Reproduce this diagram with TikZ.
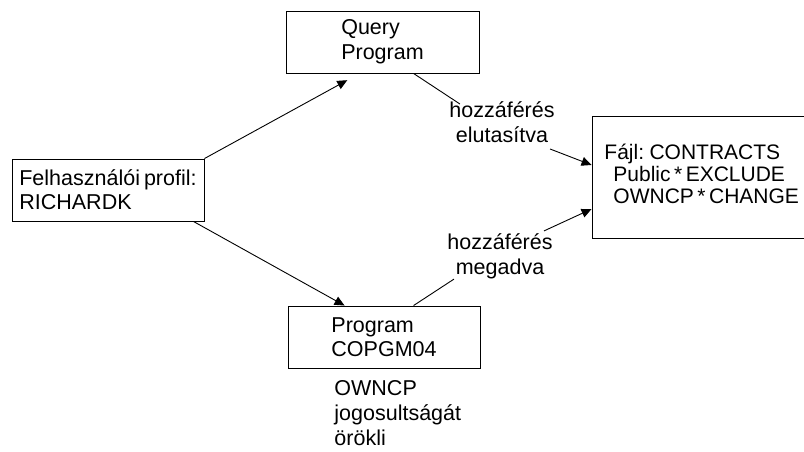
\documentclass[tikz,border=0pt]{standalone}
\usepackage{fontspec}
\setmainfont{Liberation Sans}
\usetikzlibrary{arrows.meta}
\newcommand{\tightsp}{\spaceskip=4pt\relax}
\newcommand{\tightersp}{\spaceskip=3.5pt\relax}

\begin{document}
\begin{tikzpicture}[x=1pt, y=-1pt, line width=0.9pt,
    every node/.style={font=\fontsize{21.5}{24}\selectfont\tightsp},
    box/.style={draw, align=left, inner sep=0pt},
    txt/.style={align=left, inner sep=0pt, font=\fontsize{21.5}{25}\selectfont\tightsp},
    lbl/.style={align=center, inner sep=0pt, font=\fontsize{21.5}{25}\selectfont},
    arr/.style={-{Triangle[length=10pt, width=9pt]}}]

  %% ==== boxes ====
  \node[box, minimum width=192pt, minimum height=62pt] (user) at (108,190) {Felhasználói profil:\\RICHARDK};
  \node[box, minimum width=193pt, minimum height=62pt, font=\fontsize{21.5}{25}\selectfont] (query) at (382.5,42) {Query\\Program};
  \node[box, minimum width=192pt, minimum height=62pt] (prog) at (384,337) {Program\\COPGM04};
  \node[box, minimum width=220pt, minimum height=122pt] (file) at (702,177) {};
  \node[txt, anchor=west, font=\fontsize{21}{22}\selectfont\tightersp] (filetxt) at (604,174) {Fájl: CONTRACTS\\\hspace*{9pt}Public * EXCLUDE\\\hspace*{9pt}OWNCP * CHANGE};

  %% ==== labels ====
  \node[lbl] (deny) at (502,122) {hozzáférés\\elutasítva};
  \node[lbl] (grant) at (500,256) {hozzáférés\\megadva};
  \node[txt, anchor=north west] (inherit) at (334,380) {OWNCP\\jogosultságát\\örökli};

  %% ==== connectors ====
  \draw[arr, shorten >=14pt] (user.north east) -- ([xshift=74pt]query.south west);
  \draw[arr] ([xshift=-11pt]user.south east) -- ([xshift=57pt]prog.north west);
  \draw ([xshift=128pt]query.south west) -- ([xshift=11pt, yshift=-3pt]deny.north west);
  \draw[arr] ([xshift=-5pt, yshift=-6pt]deny.south east) -- ([yshift=12pt]file.west);
  \draw ([xshift=126pt]prog.north west) -- ([xshift=7pt]grant.south west);
  \draw[arr] ([xshift=-9pt, yshift=2pt]grant.north east) -- ([yshift=-32pt]file.west);

  % fix the canvas
  \pgfresetboundingbox
  \path[use as bounding box] (0,0) rectangle (804,451);
\end{tikzpicture}
\end{document}
